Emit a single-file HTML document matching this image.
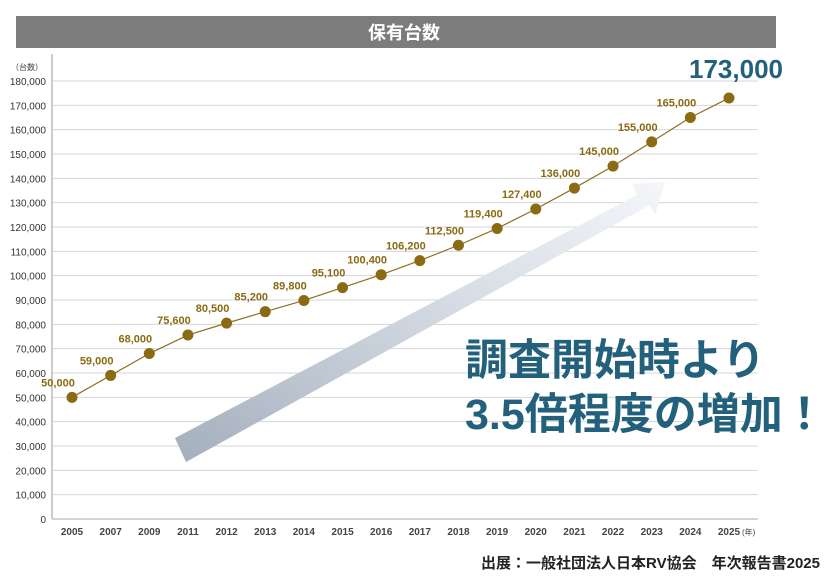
<!DOCTYPE html>
<html><head><meta charset="utf-8"><style>
body{margin:0;background:#fff;width:826px;height:582px;overflow:hidden;font-family:"Liberation Sans","Noto Sans CJK JP",sans-serif}
</style></head><body>
<svg width="826" height="582" style="position:absolute;left:0;top:0">
<defs>
<linearGradient id="ag" x1="0" y1="1" x2="1" y2="0">
<stop offset="0" stop-color="#a4afbd"/><stop offset="0.6" stop-color="#d8dee6"/><stop offset="1" stop-color="#f4f6f9"/>
</linearGradient>
</defs>
<rect x="16" y="16" width="760" height="32" fill="#7d7c7d"/>
<text x="404" y="39" text-anchor="middle" fill="#fff" font-size="18" font-weight="bold">保有台数</text>
<g id="grid"></g>
<polygon points="175,438 637,195 632,184 665,182 655,215 650,205 186,462" fill="url(#ag)"/>
<g id="marks"></g>
<text x="43" y="70" text-anchor="end" font-size="8" fill="#444">（台数）</text>
<text x="742" y="535" font-size="8" fill="#444">(年)</text>
<text x="465" y="375" font-size="43" font-weight="bold" fill="#23607c">調査開始時より</text>
<text x="465" y="429" font-size="43" font-weight="bold" fill="#23607c">3.5倍程度の増加！</text>
<text x="820" y="568" text-anchor="end" font-size="15" font-weight="bold" fill="#222">出展：一般社団法人日本RV協会　年次報告書2025</text>
</svg>
<script>
const categories=["2005","2007","2009","2011","2012","2013","2014","2015","2016","2017","2018","2019","2020","2021","2022","2023","2024","2025"];
const values=[50000,59000,68000,75600,80500,85200,89800,95100,100400,106200,112500,119400,127400,136000,145000,155000,165000,173000];
const valueLabels=["50,000","59,000","68,000","75,600","80,500","85,200","89,800","95,100","100,400","106,200","112,500","119,400","127,400","136,000","145,000","155,000","165,000","173,000"];
const yTicks=[0,10000,20000,30000,40000,50000,60000,70000,80000,90000,100000,110000,120000,130000,140000,150000,160000,170000,180000];
const NS="http://www.w3.org/2000/svg";
const y=v=>519-v/180000*438;
const x=i=>72+i*(729-72)/(categories.length-1);
function mk(t,a,p){const e=document.createElementNS(NS,t);for(const k in a)e.setAttribute(k,a[k]);p.appendChild(e);return e;}
const g=document.getElementById('grid'),m=document.getElementById('marks');
yTicks.forEach(v=>{
 const l=mk('line',{x1:52,x2:758,y1:y(v),y2:y(v),stroke:v===0?'#aaa':'#d6d6d9','stroke-width':1},g);
 
 
 const t=mk('text',{x:46,y:y(v)+4,'text-anchor':'end','font-size':10,fill:'#333'},g);
 t.textContent=v.toLocaleString('en-US');
 
 
});
const ax=mk('line',{x1:52,x2:52,y1:54,y2:519,stroke:'#ccc','stroke-width':2},g);


categories.forEach((c,i)=>{
 const t=mk('text',{x:x(i),y:535,'text-anchor':'middle','font-size':10,'font-weight':'bold',fill:'#444'},g);
 t.textContent=c;
 
 
});
const pl=mk('polyline',{points:values.map((v,i)=>x(i)+','+y(v)).join(' '),fill:'none',stroke:'#8d6f1e','stroke-width':1.2},m);


values.forEach((v,i)=>{
 const c=mk('circle',{cx:x(i),cy:y(v),r:5.5,fill:'#8a6a12'},m);
 
 
 const last=i===values.length-1;
 const t=mk('text',{x:last?x(i)+7:x(i)-14,y:last?y(v)-20:y(v)-11,'text-anchor':'middle','font-size':last?26:11,'font-weight':'bold',fill:last?'#23607c':'#8a6a12'},m);
 t.textContent=valueLabels[i];
 
 
});
</script>
</body></html>
